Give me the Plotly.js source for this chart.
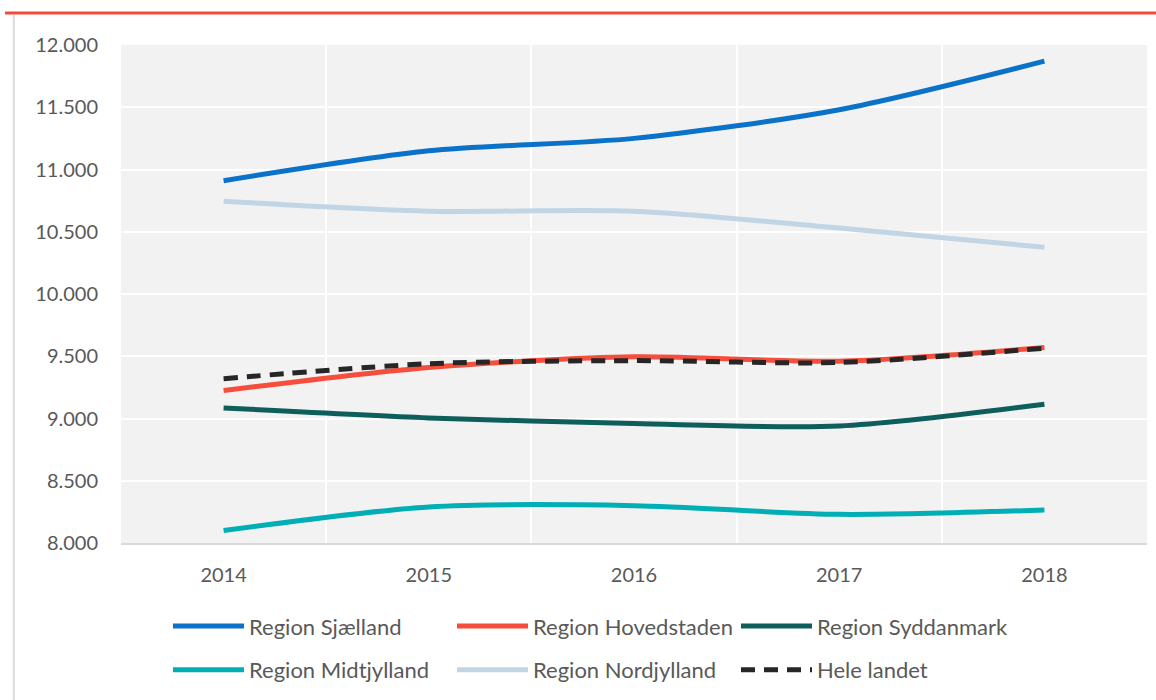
<!DOCTYPE html>
<html>
<head>
<meta charset="utf-8">
<script src="https://cdn.plot.ly/plotly-3.0.1.min.js"></script>
<style>
  html, body { margin: 0; padding: 0; background: #fff; }
  #chart { width: 1156px; height: 700px; }
</style>
</head>
<body>
<div id="chart"></div>
<script>
// years on the x axis
var years = ['2014', '2015', '2016', '2017', '2018'];

// values per region
var sjaelland = [10910, 11150, 11250, 11480, 11870];
var hovedstaden = [9225, 9410, 9495, 9460, 9570];
var syddanmark = [9085, 9005, 8960, 8940, 9115];
var midtjylland = [8100, 8290, 8300, 8230, 8265];
var nordjylland = [10745, 10665, 10665, 10530, 10375];
var heleLandet = [9320, 9440, 9465, 9450, 9565];

var names = ['Region Sjælland', 'Region Hovedstaden', 'Region Syddanmark',
             'Region Midtjylland', 'Region Nordjylland', 'Hele landet'];

function line(name, y, color, legend, dash) {
    return {
        x: years,
        y: y,
        name: name,
        type: 'scatter',
        mode: 'lines',
        legend: legend,
        line: { color: color, width: 5, shape: 'spline', smoothing: 0.8, dash: dash || 'solid' },
        hoverinfo: 'x+y+name'
    };
}

var data = [
    line(names[0], sjaelland, '#0a72c8', 'legend'),
    line(names[1], hovedstaden, '#f54e3c', 'legend'),
    line(names[2], syddanmark, '#0e5e5c', 'legend'),
    line(names[3], midtjylland, '#00aeb6', 'legend2'),
    line(names[4], nordjylland, '#c2d5e5', 'legend2'),
    line(names[5], heleLandet, '#262626', 'legend2', '14px,9px')
];

// two legend rows, three columns each
function legendRow(y) {
    return {
        orientation: 'h',
        x: 0.0458,
        xanchor: 'left',
        y: y,
        yanchor: 'top',
        entrywidth: 198,
        itemwidth: 71,
        font: { size: 22, color: '#595959' },
        bgcolor: 'rgba(0,0,0,0)'
    };
}

var layout = {
    width: 1156,
    height: 700,
    margin: { l: 121, r: 9, t: 45, b: 157, autoexpand: false },
    paper_bgcolor: '#ffffff',
    plot_bgcolor: '#f2f2f2',
    separators: ',.',
    font: { family: 'Lato, "Open Sans", sans-serif', size: 20, color: '#595959' },
    showlegend: true,
    xaxis: {
        type: 'category',
        range: [-0.5, 4.5],
        tickson: 'boundaries',
        showgrid: true,
        gridcolor: '#ffffff',
        gridwidth: 2,
        ticks: '',
        showline: true,
        linecolor: '#d9d9d9',
        linewidth: 2,
        zeroline: false,
        ticklabelstandoff: 13,
        fixedrange: true
    },
    yaxis: {
        range: [8000, 12000],
        tickvals: [8000, 8500, 9000, 9500, 10000, 10500, 11000, 11500, 12000],
        tickformat: ',d',
        showgrid: true,
        gridcolor: '#ffffff',
        gridwidth: 2,
        zeroline: false,
        showline: false,
        ticks: '',
        ticklabelstandoff: 22,
        fixedrange: true
    },
    legend: legendRow(-0.125),
    legend2: legendRow(-0.213),
    shapes: [
        { type: 'line', xref: 'paper', yref: 'paper', x0: -0.113, x1: 1.01, y0: 1.0645, y1: 1.0645,
          line: { color: '#ee4b3a', width: 3 } },
        { type: 'line', xref: 'paper', yref: 'paper', x0: -0.1045, x1: -0.1045, y0: 1.06, y1: -0.32,
          line: { color: '#d9d9d9', width: 2 } }
    ]
};

Plotly.newPlot('chart', data, layout, { displayModeBar: false, staticPlot: true });
</script>
</body>
</html>
